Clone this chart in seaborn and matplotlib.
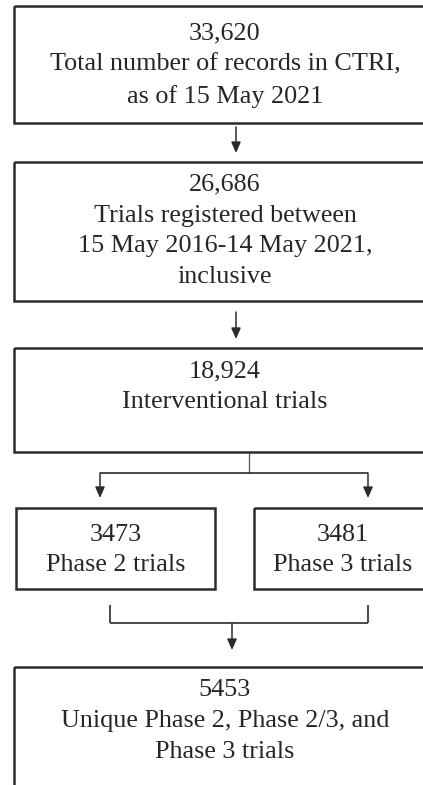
""" Flow diagram of CTRI trial selection. """
import matplotlib.pyplot as plt
import matplotlib.patches as mpatches
import seaborn as sns

# Data: counts and labels for each step
counts = ["33,620", "26,686", "18,924", "3473", "3481", "5453"]
labels = [
    "Total number of records in CTRI,\nas of 15 May 2021",
    "Trials registered between\n15 May 2016-14 May 2021,\ninclusive",
    "Interventional trials",
    "Phase 2 trials",
    "Phase 3 trials",
    "Unique Phase 2, Phase 2/3, and\nPhase 3 trials",
]

# Layout (pixel coords, y down): x0, y0, x1, y1, text centre y
boxes = [
    (14, 6, 436, 123, 65),
    (14, 162, 436, 301, 231),
    (14, 348, 436, 452, 387),
    (16, 508, 215, 589, 550),
    (254, 508, 432, 589, 550),
    (14, 667, 436, 830, 721),
]

W, H = 423, 785
EDGE = "#2b2b2b"
TEXT = "#262626"

sns.set_theme(style="white")
plt.rcParams["font.family"] = ["Liberation Serif", "DejaVu Serif"]

fig = plt.figure(figsize=(W / 100, H / 100), dpi=100)
ax = fig.add_axes([0, 0, 1, 1])
ax.set_xlim(0, W)
ax.set_ylim(H, 0)
ax.axis("off")

# Boxes with text
for (x0, y0, x1, y1, ty), num, lab in zip(boxes, counts, labels):
    ax.add_patch(mpatches.Rectangle((x0, y0), x1 - x0, y1 - y0, fill=False,
                                    edgecolor=EDGE, linewidth=1.8))
    ax.text((x0 + x1) / 2, ty, num + "\n" + lab, ha="center", va="center",
            fontsize=18.8, color=TEXT, linespacing=1.52)


def arrow(x, y_start, y_end):
    ax.annotate("", xy=(x, y_end), xytext=(x, y_start),
                arrowprops=dict(arrowstyle="-|>,head_length=0.5,head_width=0.22",
                                mutation_scale=13, lw=1.1, color=EDGE,
                                shrinkA=0, shrinkB=0))


def line(xs, ys, lw=1.2, color=EDGE):
    ax.plot(xs, ys, color=color, lw=lw, solid_capstyle="butt")


# Straight arrows between big boxes
arrow(236, 127, 153)
arrow(236, 312, 339)

# Split to phase boxes
line([249, 249], [453, 473], lw=0.9, color="#555555")
line([100, 368], [473, 473])
arrow(100, 473, 498)
arrow(368, 473, 498)

# Merge to final box
line([110, 110], [605, 623])
line([368, 368], [605, 623])
line([110, 368], [623, 623])
arrow(232, 623, 650)

fig.savefig("out.png", dpi=100)
plt.close(fig)
